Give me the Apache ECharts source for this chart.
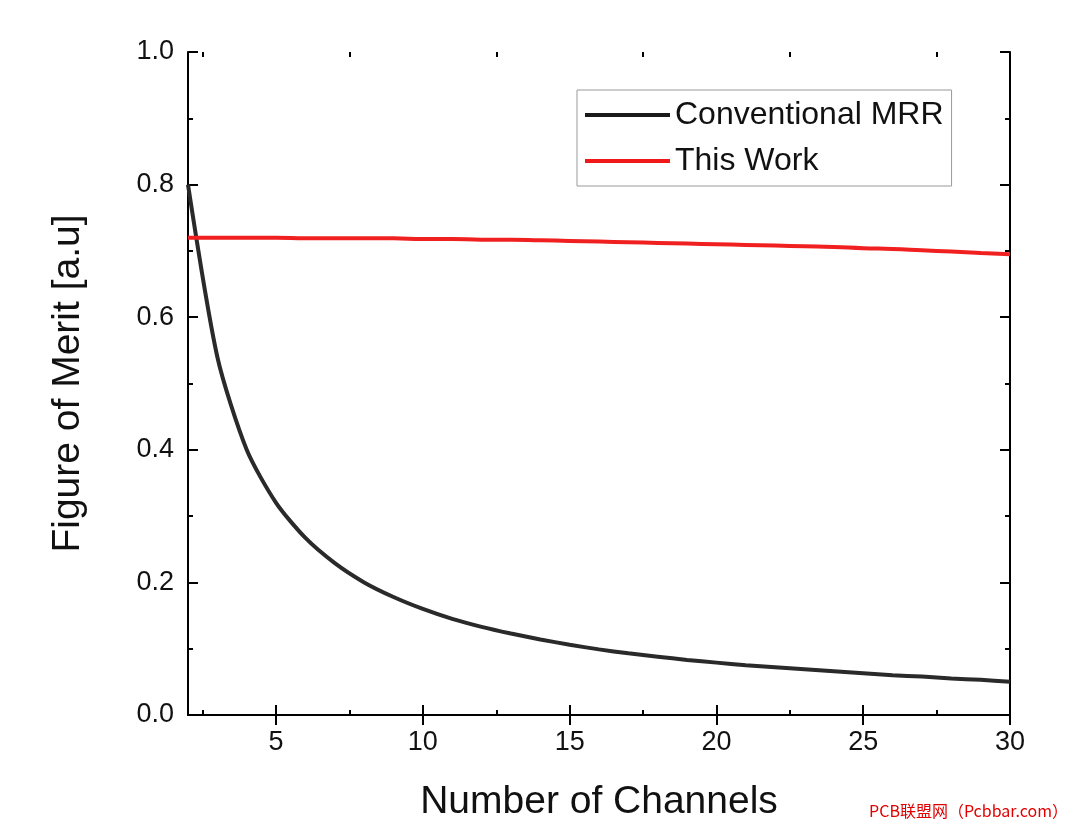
<!DOCTYPE html>
<html><head><meta charset="utf-8">
<script src="https://cdn.jsdelivr.net/npm/echarts@6/dist/echarts.min.js"></script>
<style>html,body{margin:0;background:#fff}#c{width:1080px;height:827px}</style>
</head><body><div id="c"></div>
<script>
var channels = [2,3,4,5,6,7,8,9,10,11,12,13,14,15,16,17,18,19,20,21,22,23,24,25,26,27,28,29,30];
var conventional = [0.80,0.54,0.40,0.32,0.267,0.229,0.200,0.178,0.160,0.145,0.133,0.123,0.114,0.106,0.099,0.093,0.088,0.083,0.079,0.075,0.072,0.069,0.066,0.063,0.060,0.058,0.055,0.053,0.050];
var thisWork = [0.720,0.720,0.720,0.720,0.719,0.719,0.719,0.719,0.718,0.718,0.717,0.717,0.716,0.715,0.714,0.713,0.712,0.711,0.710,0.709,0.708,0.707,0.706,0.704,0.703,0.701,0.699,0.697,0.695];
var xTicks = [5,10,15,20,25,30];
var xMinor = [2.5,7.5,12.5,17.5,22.5,27.5];

var chart = echarts.init(document.getElementById('c'));
function pairs(v){ return channels.map(function(c,i){ return [c, v[i]]; }); }
var font = 'Liberation Sans, Arial, sans-serif';
var lbl = {color:'#111', fontSize:27, fontFamily:font};
function xAx(pos, ticks, len, showLine, extra){
  return Object.assign({
    type:'value', min:2, max:30, position:pos,
    axisLine:{show:showLine, lineStyle:{color:'#000', width:2}},
    axisTick:{inside:true, length:len, lineStyle:{color:'#000', width:2}, customValues:ticks},
    axisLabel:{show:false}, splitLine:{show:false}
  }, extra || {});
}
chart.setOption({
  animation:false,
  grid:{left:188, right:70, top:52, bottom:111},
  legend:{
    orient:'vertical', left:577, top:90,
    data:['Conventional MRR','This Work'],
    itemWidth:85, itemHeight:4, itemGap:14, padding:[9,8,9,8],
    borderColor:'#999', borderWidth:1, borderRadius:0,
    icon:'rect',
    textStyle:{color:'#111', fontSize:32, fontFamily:font}
  },
  xAxis:[
    xAx('bottom', xTicks, 10, true, {
      name:'Number of Channels', nameLocation:'middle', nameGap:68,
      nameTextStyle:{color:'#111', fontSize:39, fontFamily:font},
      axisLabel:Object.assign({show:true, margin:14, customValues:xTicks}, lbl)
    }),
    xAx('top', xTicks, 10, true),
    xAx('bottom', xMinor, 5, false),
    xAx('top', xMinor, 5, false)
  ],
  yAxis:[{
    type:'value', min:0, max:1, interval:0.2,
    name:'Figure of Merit [a.u]', nameLocation:'middle', nameGap:100,
    nameTextStyle:{color:'#111', fontSize:39, fontFamily:font},
    axisLine:{show:true, lineStyle:{color:'#000', width:2}},
    axisTick:{show:true, inside:true, length:10, lineStyle:{width:2}},
    minorTick:{show:true, splitNumber:2, length:5, lineStyle:{color:'#000', width:2}},
    axisLabel:Object.assign({margin:14, formatter:function(v){return v.toFixed(1);}}, lbl),
    splitLine:{show:false}
  },{
    type:'value', min:0, max:1, interval:0.2, position:'right',
    axisLine:{show:true, lineStyle:{color:'#000', width:2}},
    axisTick:{show:true, inside:true, length:10, lineStyle:{width:2}},
    minorTick:{show:true, splitNumber:2, length:5, lineStyle:{color:'#000', width:2}},
    axisLabel:{show:false}, splitLine:{show:false}
  }],
  series:[
    {name:'Conventional MRR', type:'line', smooth:0.25, showSymbol:false, data:pairs(conventional),
     itemStyle:{color:'#1a1a1a'}, lineStyle:{color:'#2a2a2a', width:4}},
    {name:'This Work', type:'line', smooth:true, showSymbol:false, data:pairs(thisWork),
     itemStyle:{color:'#f01818'}, lineStyle:{color:'#f02020', width:4}}
  ],
  graphic:[{type:'text', right:12, bottom:8,
    style:{text:'PCB联盟网（Pcbbar.com）', fill:'#e00000', fontSize:16, fontFamily:'Noto Sans CJK SC'}}]
});
</script></body></html>
